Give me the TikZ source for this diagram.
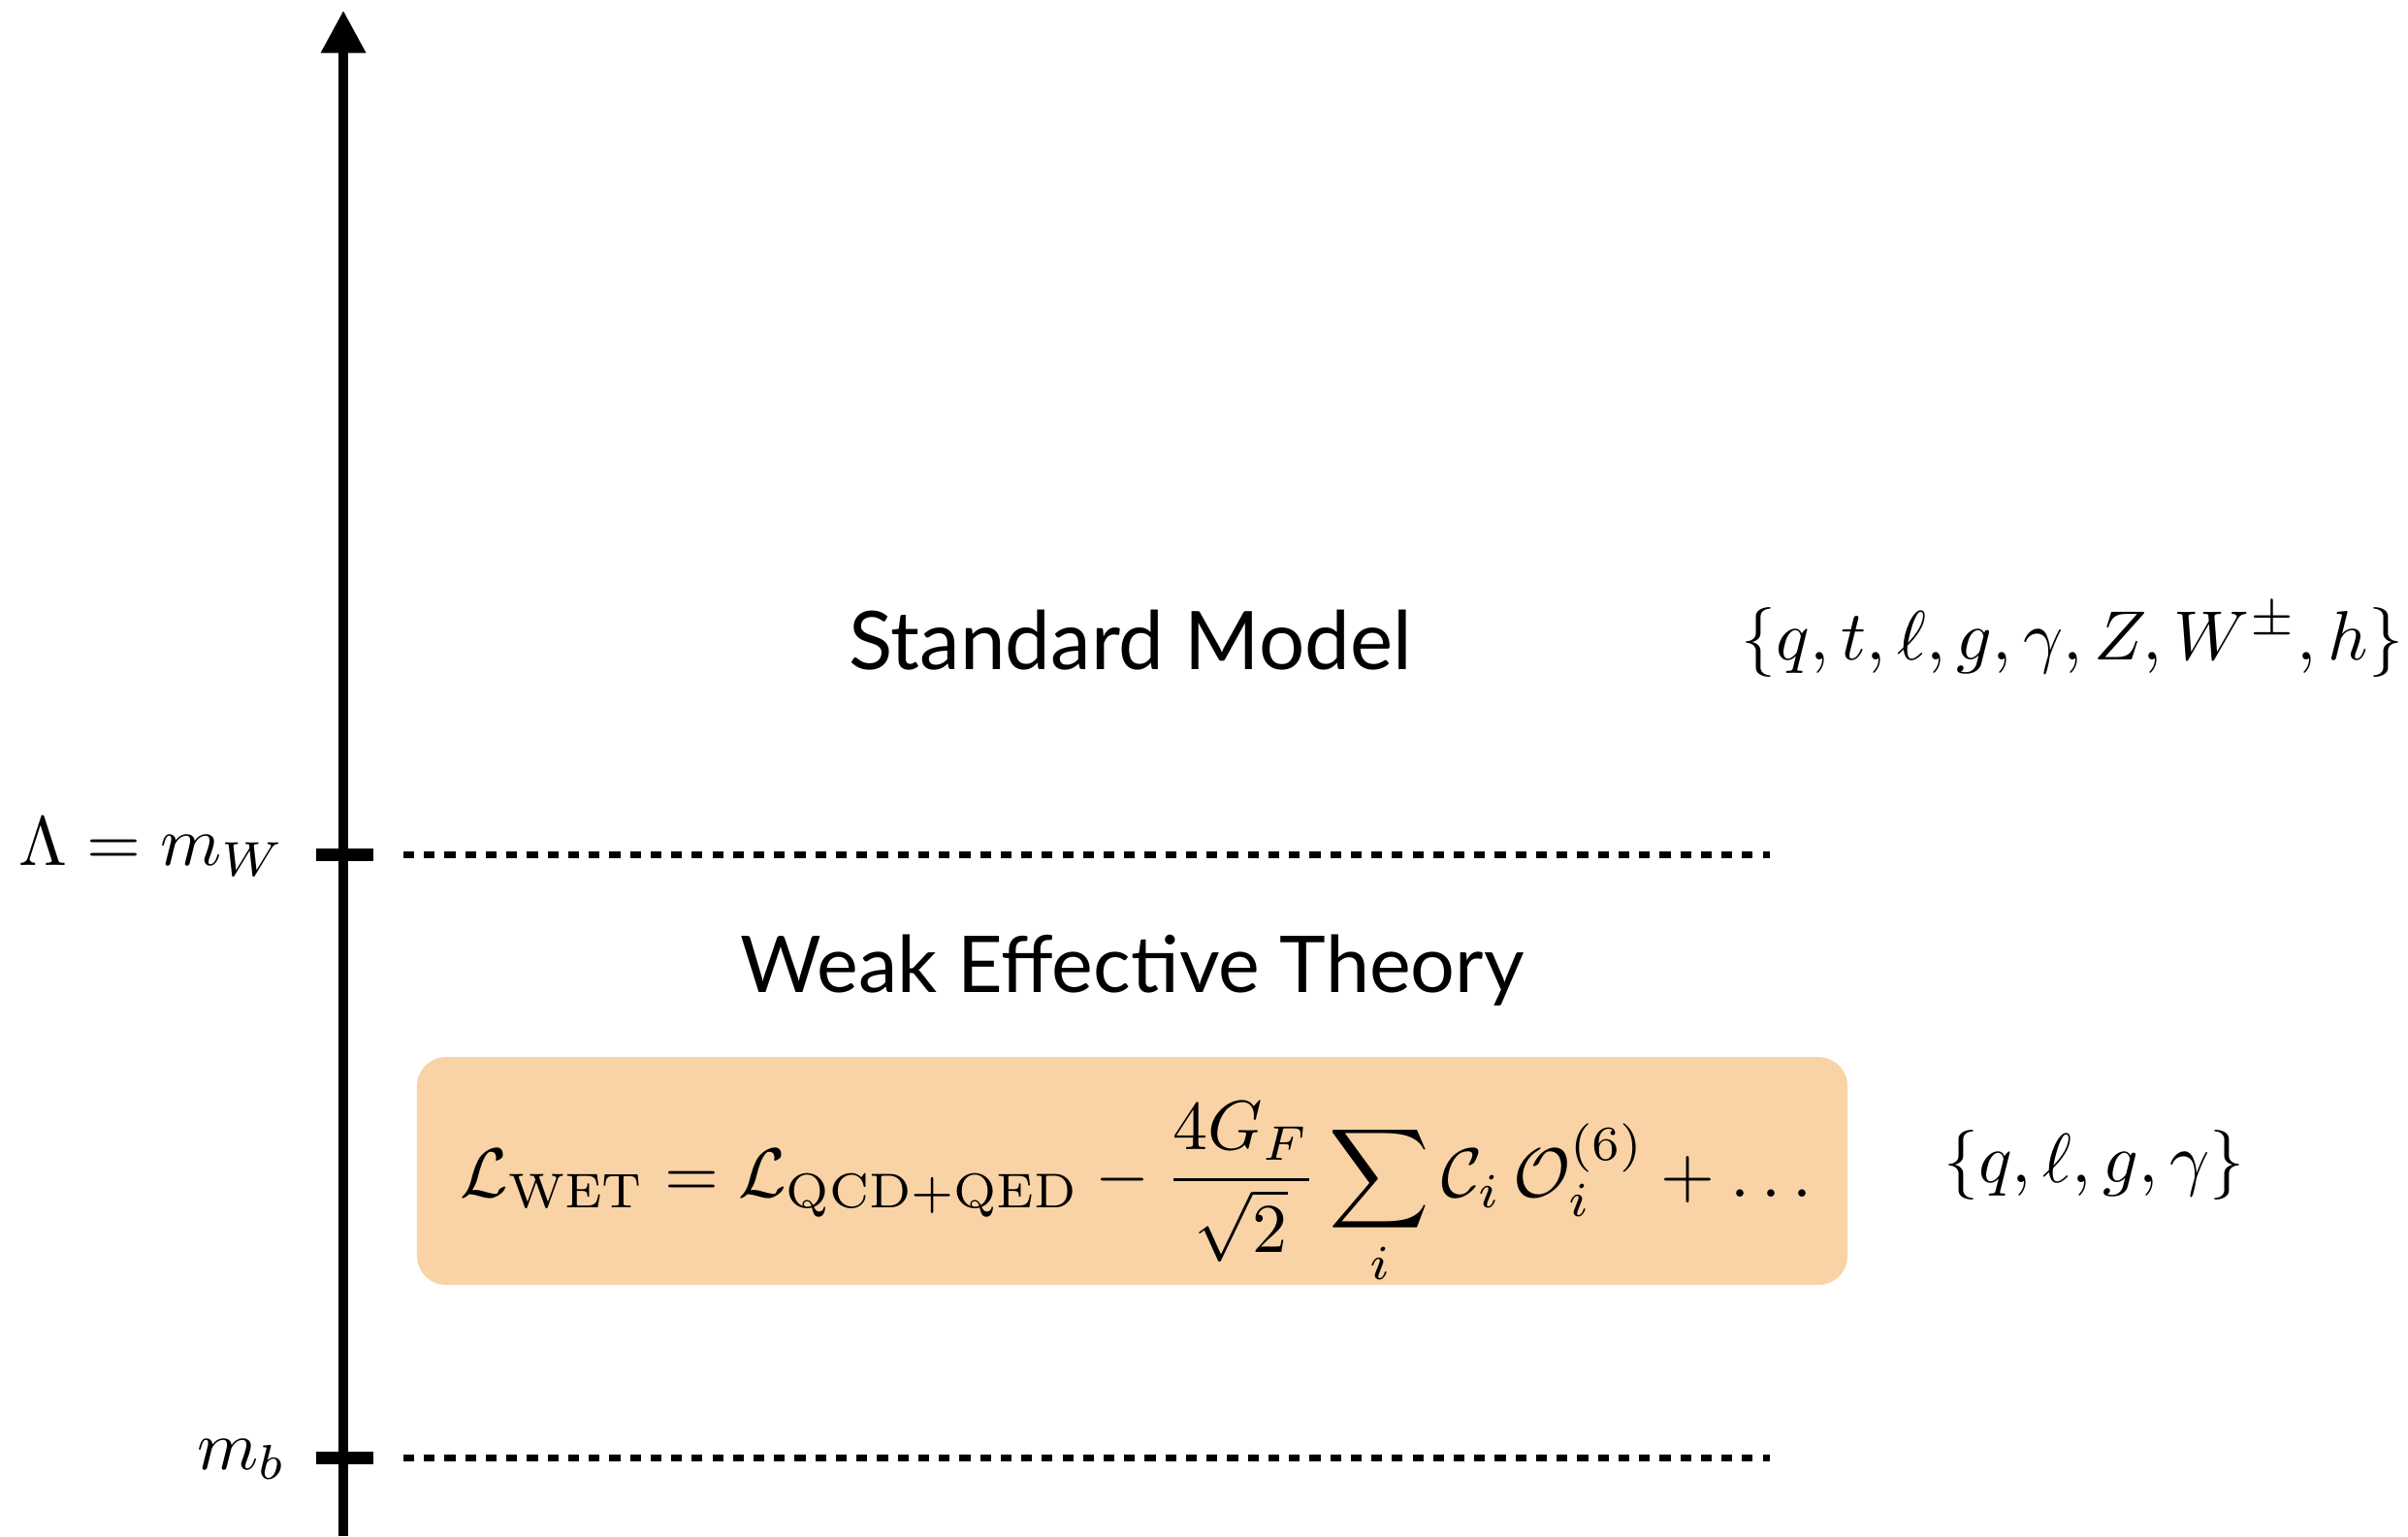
\documentclass[tikz,border=0pt]{standalone}
\usepackage{amsmath,amssymb}
\usepackage{fontspec}
\newfontfamily\theoryfont{Lato}
\usepackage{xcolor}
\usepackage{tikz}
\usetikzlibrary{positioning,arrows.meta}
\definecolor{WETorange}{HTML}{F9D3A5}
\tikzset{
  scaleaxis/.style={line width=1.35pt,-{Triangle[length=5.9pt,width=5.9pt]}},
  tickmark/.style={line width=1.75pt},
  threshold/.style={line width=0.95pt,dash pattern=on 1.5pt off 1.35pt},
  theory/.style={font=\theoryfont\fontsize{11.2}{13}\selectfont,anchor=base,inner sep=0pt},
  mathlbl/.style={scale=0.965,transform shape,inner sep=0pt},
  scalelbl/.style={mathlbl,anchor=base east},
  fields/.style={mathlbl,anchor=base},
  wetbox/.style={fill=WETorange,rounded corners=4pt,inner sep=0pt,
    minimum width=6.958cm,minimum height=1.108cm}
}

\begin{document}
\begin{tikzpicture}
\useasboundingbox (0,0) rectangle (11.712,7.472);

% energy axis
\coordinate (axbot) at (1.670,0);
\coordinate (axtop) at (1.670,7.421);
\coordinate (mW) at (1.677,3.316);
\coordinate (mb) at (1.677,0.380);
\draw[scaleaxis] (axbot) -- (axtop);

\foreach \c in {mW,mb} {
  \draw[tickmark] ([xshift=-0.139cm]\c) -- ([xshift=0.139cm]\c);
  \draw[threshold] ([xshift=0.285cm]\c) -- ([xshift=6.931cm]\c);
}

\node[scalelbl] (lamW) at (1.395,3.261) {$\Lambda = m_W$};
\node[scalelbl] (lmb) at (1.400,0.325) {$m_b$};

% theories
\node[theory] (sm) at (5.498,4.217) {Standard Model};
\node[fields] (smfields) at (10.08,4.264) {$\{q,t,\ell,g,\gamma,Z,W^\pm,h\}$};

\node[theory,font=\theoryfont\fontsize{10.85}{13}\selectfont] (wet) at (5.507,2.646) {Weak Effective Theory};
\node[wetbox] (wetlag) at (5.507,1.776) {};
\node[mathlbl,anchor=base] (lag) at (5.526,1.650)
  {$\displaystyle \mathcal{L}_{\rm WET} = \mathcal{L}_{\rm QCD+QED}
   - \frac{4G_F}{\sqrt{2}} \sum_i \mathcal{C}_i \, \mathcal{O}_i^{(6)} + \ldots$};
\node[fields] (wetfields) at (10.185,1.719) {$\{q,\ell,g,\gamma\}$};
\end{tikzpicture}
\end{document}
